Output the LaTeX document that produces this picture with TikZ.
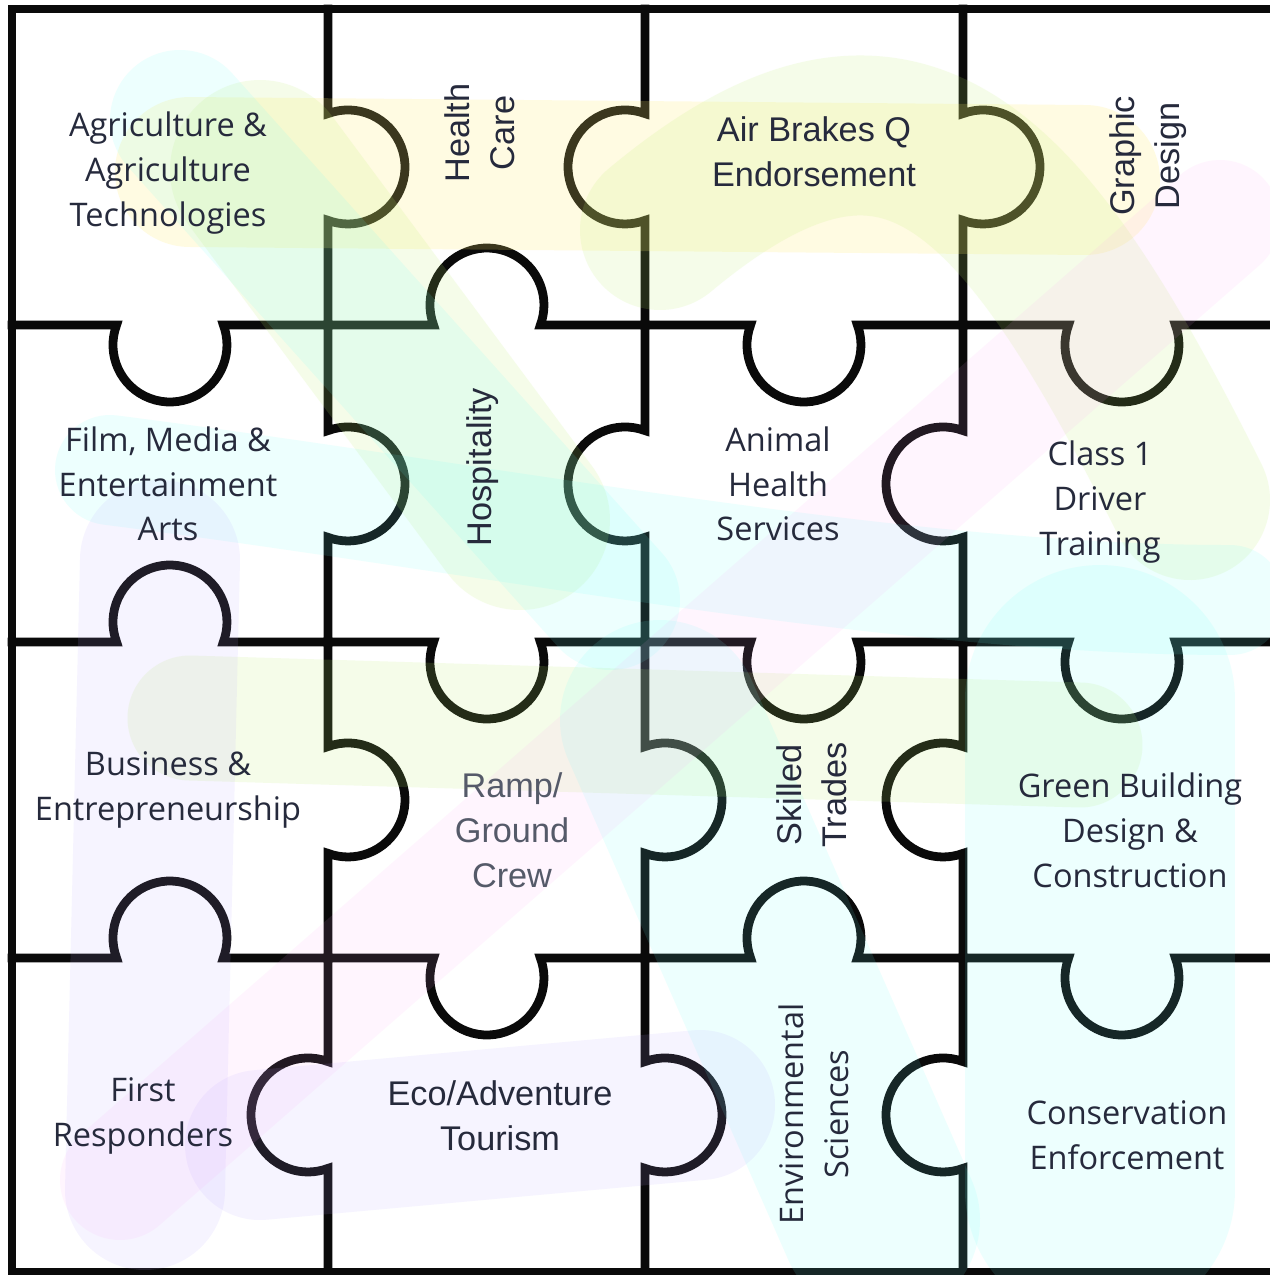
\documentclass[tikz,border=0pt]{standalone}
\usepackage{fontspec}
\setmainfont{Open Sans}
\newfontfamily\plainsans{Liberation Sans}
\definecolor{cutink}{RGB}{10,10,10}
\definecolor{labelink}{RGB}{38,42,60}
\definecolor{rampink}{RGB}{85,90,105}
\definecolor{hlyellow}{RGB}{255,238,110}
\definecolor{hllime}{RGB}{190,240,110}
\definecolor{hlcyan}{RGB}{110,255,250}
\definecolor{hllav}{RGB}{185,165,255}
\definecolor{hlpink}{RGB}{255,160,250}
% one cut of the grid with a knob: from, to, line, knob centre, side
\newcommand{\hcut}[5]{\draw[cutline] (#1,#3) -- ({#4-53.4},#3) arc[start angle={180+(#5)*20.53}, delta angle={-(#5)*221.06}, radius=57] -- (#2,#3);}
\newcommand{\vcut}[5]{\draw[cutline] (#3,#1) -- (#3,{#4-53.4}) arc[start angle={-90-(#5)*20.53}, delta angle={(#5)*221.06}, radius=57] -- (#3,#2);}
\tikzset{
  cutline/.style={cutink, line width=5pt, line cap=rect, line join=miter},
  hilite/.style={line width=#1, line cap=round, line join=round},
  piece/.style={font=\fontsize{18.5}{25.5}\selectfont, text=labelink, align=center, inner sep=0pt},
  piecealt/.style={font=\plainsans\fontsize{19.5}{25.5}\selectfont, text=labelink, align=center, inner sep=0pt},
}
\begin{document}
\begin{tikzpicture}[x=0.02cm, y=-0.02cm]
\useasboundingbox (0,0) rectangle (1270,1275);
\clip (0,0) rectangle (1270,1275);
\fill[white] (0,0) rectangle (1270,1275);
\draw[cutline] (12,9) rectangle (1300,1272);
% rows
\hcut{12}{328}{325}{170}{1}
\hcut{328}{645}{325}{487}{-1}
\hcut{645}{963}{325}{804}{1}
\hcut{963}{1300}{325}{1122}{1}
\hcut{12}{328}{642}{170}{-1}
\hcut{328}{645}{642}{487}{1}
\hcut{645}{963}{642}{804}{1}
\hcut{963}{1300}{642}{1122}{1}
\hcut{12}{328}{958}{170}{-1}
\hcut{328}{645}{958}{487}{1}
\hcut{645}{963}{958}{804}{-1}
\hcut{963}{1300}{958}{1122}{1}
% columns
\vcut{9}{325}{328}{167}{1}
\vcut{325}{642}{328}{484}{1}
\vcut{642}{958}{328}{800}{1}
\vcut{958}{1272}{328}{1115}{-1}
\vcut{9}{325}{645}{167}{-1}
\vcut{325}{642}{645}{484}{-1}
\vcut{642}{958}{645}{800}{1}
\vcut{958}{1272}{645}{1115}{1}
\vcut{9}{325}{963}{167}{1}
\vcut{325}{642}{963}{484}{-1}
\vcut{642}{958}{963}{800}{-1}
\vcut{958}{1272}{963}{1115}{-1}
% marker strokes
\draw[hilite=3cm, hlyellow, opacity=0.2] (190,172) -- (1085,180);
\draw[hilite=3.6cm, hllime, opacity=0.15] (260,170) -- (520,520);
\draw[hilite=3.2cm, hllime, opacity=0.15] (660,230) .. controls (900,30) and (1020,160) .. (1190,500);
\draw[hilite=2.5cm, hllime, opacity=0.15] (190,718) -- (1080,745);
\draw[hilite=2.8cm, hlcyan, opacity=0.12] (180,120) -- (610,600);
\draw[hilite=2.2cm, hlcyan, opacity=0.12] (110,470) .. controls (500,520) and (900,600) .. (1230,600);
\draw[hilite=5.4cm, hlcyan, opacity=0.12] (1100,700) -- (1100,1190);
\draw[hilite=4cm, hlcyan, opacity=0.12] (660,720) -- (880,1220);
\draw[hilite=3.2cm, hllav, opacity=0.12] (160,560) -- (145,1190);
\draw[hilite=3cm, hllav, opacity=0.12] (260,1145) -- (700,1105);
\draw[hilite=2.4cm, hlpink, opacity=0.1] (120,1180) -- (1220,220);
% labels
\node[piece] (agri) at (168,173) {Agriculture \&\\Agriculture\\Technologies};
\node[piecealt, rotate=90] (health) at (480,133) {Health\\Care};
\node[piecealt] (airbrakes) at (814,152) {Air Brakes Q\\Endorsement};
\node[piecealt, rotate=90] (graphic) at (1148,156) {Graphic\\Design};
\node[piece] (film) at (168,484) {Film, Media \&\\Entertainment\\Arts};
\node[piecealt, rotate=90] (hosp) at (483,467) {Hospitality};
\node[piece] (animal) at (778,484) {Animal\\Health\\Services};
\node[piece] (class1) at (1100,502) {Class 1\\Driver\\Training};
\node[piece] (business) at (168,790) {Business \&\\Entrepreneurship};
\node[piecealt, text=rampink] (ramp) at (512,830) {Ramp/\\Ground\\Crew};
\node[piecealt, rotate=90] (skilled) at (812,795) {Skilled\\Trades};
\node[piece] (green) at (1130,830) {Green Building\\Design \&\\Construction};
\node[piece] (first) at (143,1116) {First\\Responders};
\node[piecealt] (eco) at (500,1116) {Eco/Adventure\\Tourism};
\node[piece, rotate=90] (enviro) at (814,1114) {Environmental\\Sciences};
\node[piece] (conserv) at (1127,1135) {Conservation\\Enforcement};
\end{tikzpicture}
\end{document}
